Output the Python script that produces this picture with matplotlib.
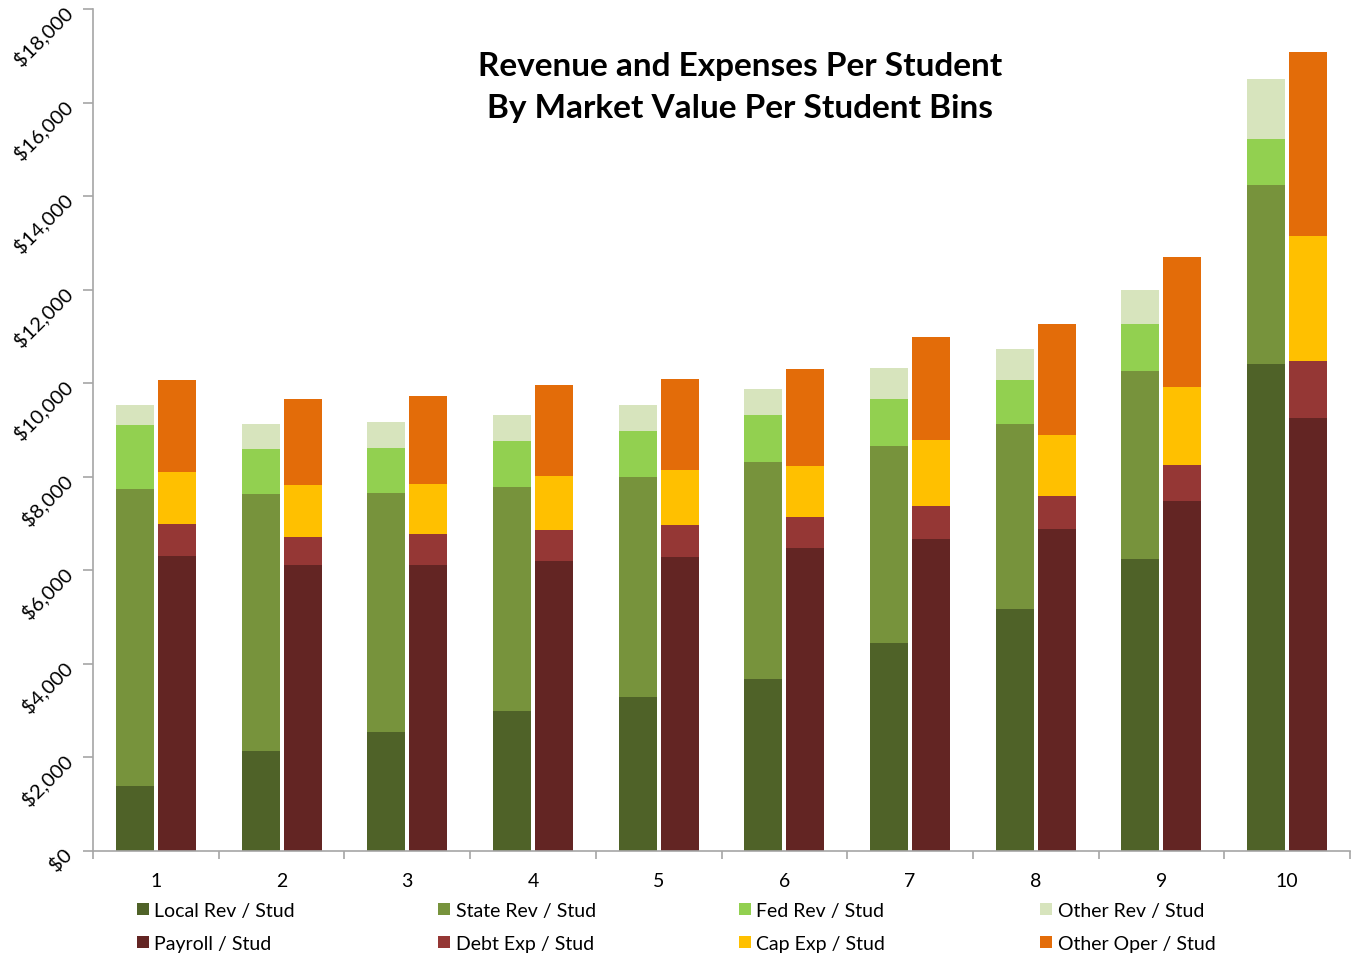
import numpy as np
import matplotlib
matplotlib.use("Agg")
import matplotlib.pyplot as plt
from matplotlib.ticker import FuncFormatter, FixedLocator

plt.rcParams['font.family'] = ['Lato', 'DejaVu Sans']

bins = ["1", "2", "3", "4", "5", "6", "7", "8", "9", "10"]

# revenue components (stacked, left bar)
local_rev = [1390, 2138, 2544, 2993, 3292, 3677, 4447, 5173, 6242, 10411]
state_rev = [6349, 5494, 5109, 4788, 4703, 4639, 4211, 3955, 4019, 3826]
fed_rev = [1368, 962, 962, 984, 984, 1005, 1005, 941, 1005, 984]
other_rev = [427, 534, 556, 556, 555, 555, 662, 663, 727, 1283]

# expense components (stacked, right bar)
payroll = [6306, 6114, 6114, 6200, 6285, 6477, 6670, 6884, 7482, 9257]
debt_exp = [684, 599, 663, 662, 684, 663, 705, 705, 770, 1218]
cap_exp = [1112, 1111, 1069, 1155, 1176, 1090, 1411, 1304, 1667, 2672]
other_oper = [1967, 1839, 1881, 1945, 1945, 2074, 2202, 2373, 2779, 3934]

rev_series = [
    ("Local Rev / Stud", local_rev, "#4F6228"),
    ("State Rev / Stud", state_rev, "#77933C"),
    ("Fed Rev / Stud", fed_rev, "#92D050"),
    ("Other Rev / Stud", other_rev, "#D7E4BD"),
]
exp_series = [
    ("Payroll / Stud", payroll, "#632523"),
    ("Debt Exp / Stud", debt_exp, "#953735"),
    ("Cap Exp / Stud", cap_exp, "#FFC000"),
    ("Other Oper / Stud", other_oper, "#E36C09"),
]

W, H = 1359, 962
fig = plt.figure(figsize=(W / 100, H / 100), dpi=100)
ax = fig.add_axes([93 / W, 1 - 852 / H, 1257 / W, 842 / H])

x = np.arange(len(bins))
width = 0.302
offset = 0.167

handles = {}
for group, shift in ((rev_series, -offset), (exp_series, offset)):
    bottom = np.zeros(len(bins))
    for label, vals, color in group:
        vals = np.array(vals, dtype=float)
        h = ax.bar(x + shift, vals, width, bottom=bottom, color=color,
                   linewidth=0, label=label)
        handles[label] = h
        bottom += vals

ax.set_xlim(-0.5, len(bins) - 0.5)
ax.set_ylim(0, 18000)
ax.set_yticks(np.arange(0, 18001, 2000))
ax.yaxis.set_major_formatter(FuncFormatter(lambda v, p: f"${v:,.0f}"))
ax.tick_params(axis="y", length=7, color="#A6A6A6", width=1.2, labelsize=14.5, pad=10)
for lbl in ax.get_yticklabels():
    lbl.set_rotation(45)
    lbl.set_ha("right")
    lbl.set_va("center")
    lbl.set_rotation_mode("anchor")

ax.set_xticks(x)
ax.set_xticklabels(bins)
ax.xaxis.set_minor_locator(FixedLocator(np.arange(-0.5, len(bins), 1.0)))
ax.tick_params(axis="x", which="major", length=0, pad=15, labelsize=14)
ax.tick_params(axis="x", which="minor", length=6, color="#A6A6A6", width=1.2)

for side in ("top", "right"):
    ax.spines[side].set_visible(False)
for side in ("left", "bottom"):
    ax.spines[side].set_color("#A6A6A6")
    ax.spines[side].set_linewidth(1.2)

fig.text(740 / W, 1 - 52 / H, "Revenue and Expenses Per Student\nBy Market Value Per Student Bins",
         ha="center", va="top", fontsize=24, fontweight="bold", linespacing=1.55)

# legend: four columns, revenue on the top row, expenses below
col_x = [137, 438, 739, 1040]
for cx, r, e in zip(col_x, rev_series, exp_series):
    fig.legend([handles[r[0]], handles[e[0]]], [r[0], e[0]], loc="upper left",
               bbox_to_anchor=(cx / W, 1 - 903 / H), frameon=False, fontsize=14,
               handlelength=0.6, handleheight=0.6, handletextpad=0.3,
               labelspacing=0.82, borderpad=0, borderaxespad=0)

fig.savefig("out.png", dpi=100)
